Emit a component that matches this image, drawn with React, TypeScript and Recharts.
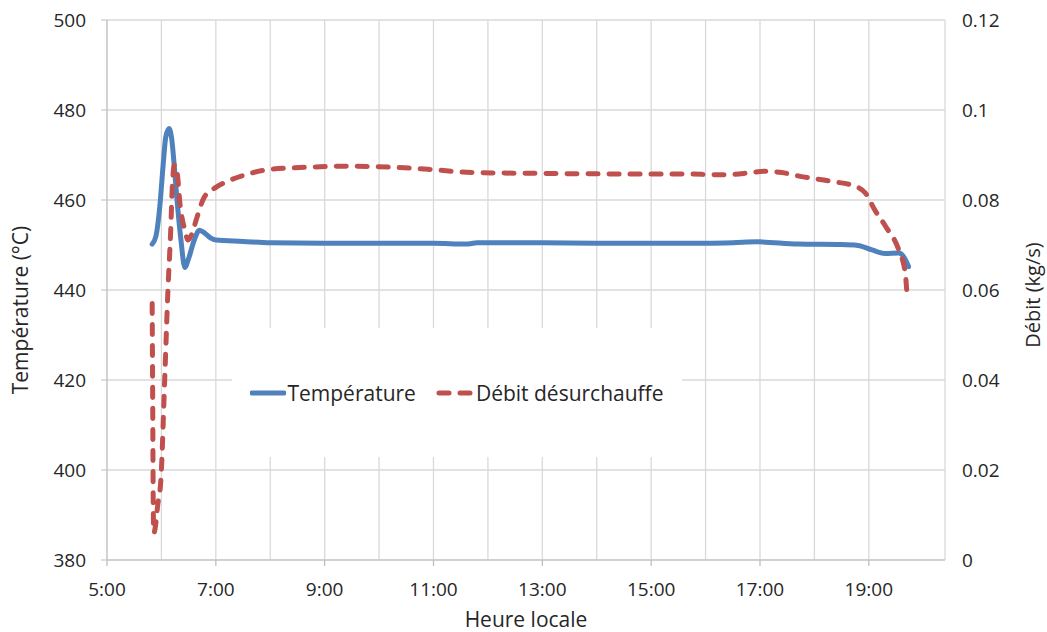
import React from 'react';
import { LineChart, Line, XAxis, YAxis, CartesianGrid, Legend } from 'recharts';

// Time of day in decimal hours
const tempHours = [
  5.83, 5.9, 5.97, 6.03, 6.08, 6.14, 6.19, 6.24, 6.28, 6.36, 6.43, 6.5, 6.6, 6.7, 6.8,
  6.9, 7.0, 7.5, 8.0, 9.0, 10.0, 11.0, 11.6, 11.8, 13.0, 14.0, 15.0, 16.0, 16.5, 16.95,
  17.7, 18.5, 18.8, 19.06, 19.3, 19.55, 19.65, 19.73,
];
// Steam temperature (°C)
const tempValues = [
  450.2, 452.0, 458.5, 467.5, 474.0, 475.9, 473.5, 467.0, 461.0, 451.0, 445.0, 447.0, 451.0, 453.3, 452.6,
  451.6, 451.1, 450.8, 450.5, 450.4, 450.4, 450.4, 450.2, 450.5, 450.5, 450.4, 450.4, 450.4, 450.5, 450.7,
  450.2, 450.1, 449.9, 448.9, 448.1, 448.2, 447.2, 445.2,
];

const flowHours = [
  5.83, 5.84, 5.85, 5.86, 5.89, 5.93, 5.99, 6.06, 6.12, 6.17, 6.2, 6.24, 6.29, 6.34, 6.43,
  6.49, 6.56, 6.64, 6.79, 7.0, 7.26, 7.6, 7.93, 8.54, 9.4, 10.2, 10.93, 11.72, 13.07, 14.29,
  15.5, 16.37, 16.7, 17.1, 17.4, 17.72, 18.33, 18.76, 18.94, 19.1, 19.31, 19.55, 19.67, 19.7,
];
// Desuperheating flow (kg/s)
const flowValues = [
  0.057, 0.035, 0.012, 0.006, 0.0075, 0.012, 0.0178, 0.04, 0.06, 0.073, 0.083, 0.0878, 0.086, 0.0793, 0.0733,
  0.0711, 0.0725, 0.0756, 0.0807, 0.0828, 0.0844, 0.0858, 0.0867, 0.0872, 0.0875, 0.0873, 0.0868, 0.0861, 0.0859, 0.0858,
  0.0858, 0.0856, 0.0859, 0.0864, 0.0861, 0.0853, 0.0841, 0.083, 0.0815, 0.078, 0.0741, 0.0689, 0.0637, 0.0593,
];

const hourTicks = [5, 6, 7, 8, 9, 10, 11, 12, 13, 14, 15, 16, 17, 18, 19, 20, 20.4];
const tempTicks = [380, 400, 420, 440, 460, 480, 500];
const flowTicks = [0, 0.02, 0.04, 0.06, 0.08, 0.1, 0.12];

const tempData = tempHours.map((t, i) => ({ t, temp: tempValues[i] }));
const flowData = flowHours.map((t, i) => ({ t, flow: flowValues[i] }));

const FONT = "'Open Sans', sans-serif";
const TEXT = '#262626';
const GRID = '#d9d9d9';
const AXIS = '#bfbfbf';
const BLUE = '#4f81bd';
const RED = '#c0504d';

const TICK_SIZE = 6;
const TICK_GAP = 17;

const isMajorHour = (v: number) => Number.isInteger(v) && v % 2 === 1;

// Hour axis tick: labelled tick mark every two hours, gridline only otherwise
const HourTick = (props: any) => {
  const { x, y, payload } = props;
  const v = payload.value as number;
  if (!isMajorHour(v)) return <g />;
  const axisY = y - TICK_SIZE - TICK_GAP;
  return (
    <g>
      <line x1={x} x2={x} y1={axisY} y2={axisY + TICK_SIZE} stroke={AXIS} strokeWidth={1.3} />
      <text x={x} y={y} dy="0.71em" textAnchor="middle" fill={TEXT} fontSize={19} fontFamily={FONT}>
        {`${v}:00`}
      </text>
    </g>
  );
};

const LegendBox = () => (
  <div
    style={{
      width: '100%',
      height: '100%',
      background: '#fff',
      display: 'flex',
      alignItems: 'center',
      justifyContent: 'center',
      fontFamily: FONT,
      fontSize: 21,
      color: TEXT,
    }}
  >
    <svg width={36} height={10} style={{ marginRight: 1 }}>
      <line x1={2} y1={5} x2={34} y2={5} stroke={BLUE} strokeWidth={5} strokeLinecap="round" />
    </svg>
    <span>Température</span>
    <svg width={38} height={10} style={{ marginLeft: 20, marginRight: 2 }}>
      <line x1={3} y1={5} x2={36} y2={5} stroke={RED} strokeWidth={5} strokeLinecap="round" strokeDasharray="10 11" />
    </svg>
    <span>Débit désurchauffe</span>
  </div>
);

export default function App() {
  return (
    <div style={{ position: 'absolute', left: 0, top: 0, background: '#fff' }}>
      <LineChart width={1047} height={632} margin={{ top: 20, right: 0, bottom: 0, left: 0 }}>
        <CartesianGrid yAxisId="left" stroke={GRID} strokeWidth={1.3} />
        <XAxis
          dataKey="t"
          type="number"
          domain={[5, 20.4]}
          ticks={hourTicks}
          allowDataOverflow
          height={72}
          stroke={AXIS}
          tickLine={false}
          tickSize={TICK_SIZE}
          tickMargin={TICK_GAP}
          tick={<HourTick />}
          label={{
            content: ({ viewBox }: any) => (
              <text
                x={viewBox.x + viewBox.width / 2}
                y={viewBox.y + 67}
                textAnchor="middle"
                fill={TEXT}
                fontSize={21}
                fontFamily={FONT}
              >
                Heure locale
              </text>
            ),
          }}
        />
        <YAxis
          yAxisId="left"
          domain={[380, 500]}
          ticks={tempTicks}
          width={107}
          stroke={AXIS}
          tickSize={6}
          tickMargin={15}
          tick={{ fill: TEXT, fontSize: 19, fontFamily: FONT }}
          label={{
            content: ({ viewBox }: any) => {
              const cx = 20;
              const cy = viewBox.y + viewBox.height / 2 + 20;
              return (
                <text
                  x={cx}
                  y={cy}
                  transform={`rotate(-90 ${cx} ${cy})`}
                  textAnchor="middle"
                  dominantBaseline="central"
                  fill={TEXT}
                  fontSize={21}
                  fontFamily={FONT}
                >
                  Température (°C)
                </text>
              );
            },
          }}
        />
        <YAxis
          yAxisId="right"
          orientation="right"
          domain={[0, 0.12]}
          ticks={flowTicks}
          width={102}
          axisLine={false}
          tickLine={false}
          tickSize={0}
          tickMargin={17}
          tickFormatter={(v: number) => String(Number(v.toFixed(2)))}
          tick={{ fill: TEXT, fontSize: 19, fontFamily: FONT }}
          label={{
            content: ({ viewBox }: any) => {
              const cx = 1032;
              const cy = viewBox.y + viewBox.height / 2 + 5;
              return (
                <text
                  x={cx}
                  y={cy}
                  transform={`rotate(-90 ${cx} ${cy})`}
                  textAnchor="middle"
                  dominantBaseline="central"
                  fill={TEXT}
                  fontSize={20}
                  fontFamily={FONT}
                >
                  Débit (kg/s)
                </text>
              );
            },
          }}
        />
        <Legend
          layout="horizontal"
          verticalAlign="middle"
          align="center"
          content={<LegendBox />}
          wrapperStyle={{ left: 232, top: 328, width: 450, height: 129 }}
        />
        <Line
          yAxisId="left"
          data={tempData}
          dataKey="temp"
          type="monotone"
          stroke={BLUE}
          strokeWidth={5}
          strokeLinecap="round"
          strokeLinejoin="round"
          dot={false}
          activeDot={false}
          isAnimationActive={false}
        />
        <Line
          yAxisId="right"
          data={flowData}
          dataKey="flow"
          type="monotone"
          stroke={RED}
          strokeWidth={5}
          strokeLinecap="round"
          strokeDasharray="10 11"
          dot={false}
          activeDot={false}
          isAnimationActive={false}
        />
      </LineChart>
    </div>
  );
}
